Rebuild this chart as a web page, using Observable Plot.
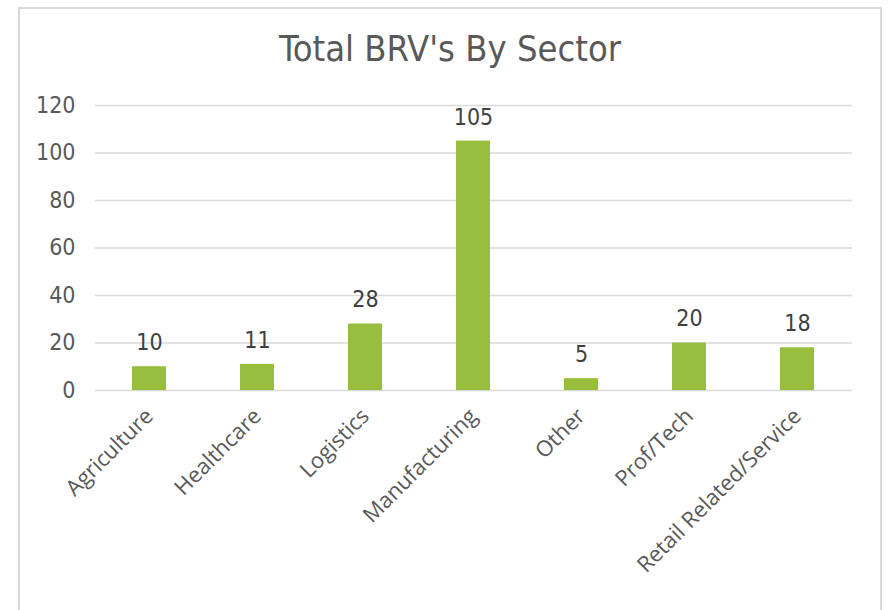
<!DOCTYPE html>
<html>
<head>
<meta charset="utf-8">
<script src="https://cdn.jsdelivr.net/npm/d3@7"></script>
<script src="https://cdn.jsdelivr.net/npm/@observablehq/plot@0.6"></script>
<style>
  html, body { margin: 0; padding: 0; background: #fff; }
  #wrap { position: relative; width: 892px; height: 610px; overflow: hidden; background: #fff; }
  #frame { position: absolute; left: 18px; top: 7px; width: 864px; height: 640px; border: 2px solid #d9d9d9; box-sizing: border-box; }
  #title { position: absolute; left: 18px; width: 864px; top: 28px; text-align: center; font-family: "DejaVu Sans Condensed", sans-serif; font-size: 36px; color: #595959; }
  #chart { position: absolute; left: 0; top: 0; }
</style>
</head>
<body>
<div id="wrap">
  <div id="frame"></div>
  <div id="title">Total BRV's By Sector</div>
  <div id="chart"></div>
</div>
<script>
const sectors = ["Agriculture", "Healthcare", "Logistics", "Manufacturing", "Other", "Prof/Tech", "Retail Related/Service"];
const counts = [10, 11, 28, 105, 5, 20, 18];
const yTicks = [0, 20, 40, 60, 80, 100, 120];

const data = sectors.map((s, i) => ({sector: s, count: counts[i]}));
const numFont = "DejaVu Sans Condensed, sans-serif";

const chart = Plot.plot({
  width: 892,
  height: 610,
  marginTop: 105,
  marginBottom: 220,
  marginLeft: 95,
  marginRight: 40,
  style: {fontFamily: "Open Sans, sans-serif", color: "#595959", background: "transparent", overflow: "visible"},
  x: {domain: sectors, paddingInner: 0.685, paddingOuter: 0.3425, label: null},
  y: {domain: [0, 120], label: null},
  marks: [
    Plot.gridY(yTicks, {stroke: "#d9d9d9", strokeOpacity: 1, strokeWidth: 1.5}),
    Plot.axisY({ticks: yTicks, tickSize: 0, tickPadding: 20, fontSize: 23, fontFamily: numFont, fill: "#595959", label: null}),
    Plot.axisX({tickSize: 0, tickPadding: 22, tickRotate: -45, fontSize: 22, fill: "#595959", label: null}),
    Plot.barY(data, {x: "sector", y: "count", fill: "#97bf3d"}),
    Plot.text(data, {x: "sector", y: "count", text: d => String(d.count), dy: -24, fontSize: 23, fontFamily: numFont, fill: "#404040"})
  ]
});
document.getElementById("chart").appendChild(chart);
</script>
</body>
</html>
